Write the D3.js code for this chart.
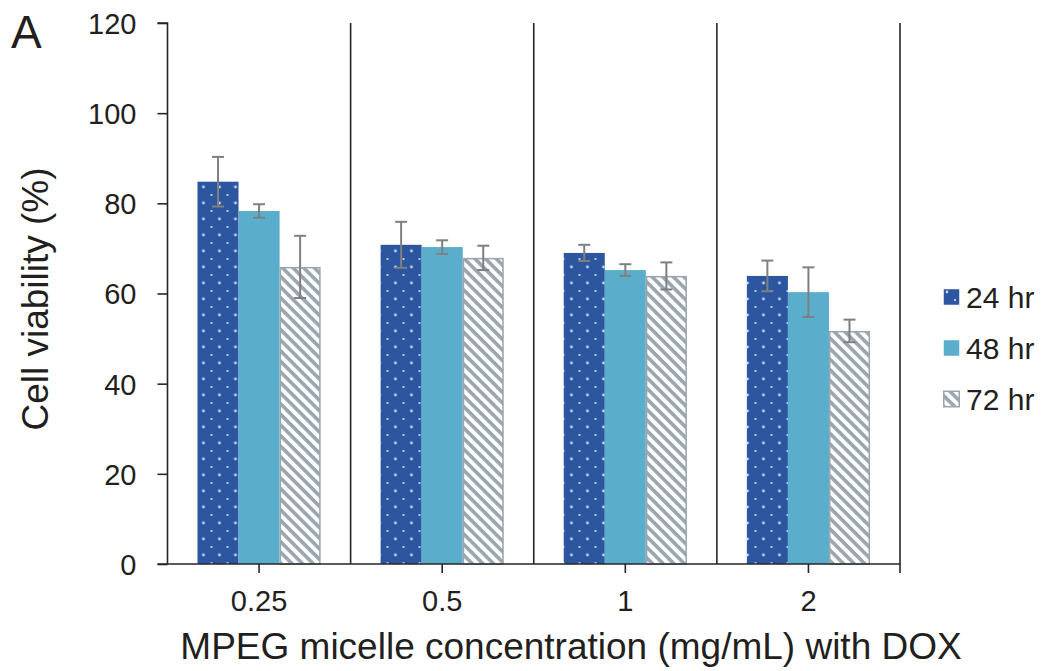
<!DOCTYPE html>
<html>
<head>
<meta charset="utf-8">
<script src="https://cdn.jsdelivr.net/npm/d3@7"></script>
<style>
  html, body { margin: 0; padding: 0; background: #fff; }
  svg { display: block; font-family: "Liberation Sans", Arial, sans-serif; }
</style>
</head>
<body>
<svg id="chart" width="1049" height="671"></svg>
<script>
// Concentrations (x categories) and time points (series)
const categories = ["0.25", "0.5", "1", "2"];
const seriesNames = ["24 hr", "48 hr", "72 hr"];

// Mean cell viability (%) per series, one value per concentration
const viability24 = [84.8, 70.8, 69.0, 63.9];
const viability48 = [78.3, 70.3, 65.2, 60.3];
const viability72 = [65.9, 67.9, 63.9, 51.7];

// Standard deviations
const error24 = [5.5, 5.1, 1.8, 3.4];
const error48 = [1.5, 1.5, 1.3, 5.5];
const error72 = [6.9, 2.7, 3.0, 2.5];

const yTicks = [0, 20, 40, 60, 80, 100, 120];

const series = [
  { name: seriesNames[0], values: viability24, errors: error24, fill: "url(#dots)", stroke: "none" },
  { name: seriesNames[1], values: viability48, errors: error48, fill: "#5aaecb", stroke: "none" },
  { name: seriesNames[2], values: viability72, errors: error72, fill: "url(#stripes)", stroke: "#9aa5ae" }
];

const svg = d3.select("#chart");
const margin = { left: 167.5, right: 149, top: 23, bottom: 107 };
const W = 1049, H = 671;
const plotW = W - margin.left - margin.right;
const plotH = H - margin.top - margin.bottom;
const textColor = "#231f20";
const axisColor = "#262626";

// Patterns for the 24 hr (dotted) and 72 hr (striped) bars
const defs = svg.append("defs");
const dots = defs.append("pattern").attr("id", "dots")
  .attr("patternUnits", "userSpaceOnUse").attr("width", 16).attr("height", 16);
dots.append("rect").attr("width", 16).attr("height", 16).attr("fill", "#2d56a0");
dots.append("circle").attr("cx", 4).attr("cy", 4).attr("r", 1.4).attr("fill", "#c9d6ee");
dots.append("circle").attr("cx", 12).attr("cy", 12).attr("r", 1.0).attr("fill", "#e6ecf7");

const stripes = defs.append("pattern").attr("id", "stripes")
  .attr("patternUnits", "userSpaceOnUse").attr("width", 7.5).attr("height", 7.5)
  .attr("patternTransform", "rotate(45)");
stripes.append("rect").attr("width", 7.5).attr("height", 7.5).attr("fill", "#ffffff");
stripes.append("rect").attr("width", 7.5).attr("height", 3.6).attr("fill", "#9aa5ae");

const g = svg.append("g").attr("transform", `translate(${margin.left},${margin.top})`);

const x0 = d3.scaleBand().domain(categories).range([0, plotW]).paddingInner(0).paddingOuter(0);
const x1 = d3.scaleBand().domain(seriesNames).range([0, x0.bandwidth()]).paddingInner(0).paddingOuter(0.73);
const y = d3.scaleLinear().domain([0, 120]).range([plotH, 0]);

// Bars
series.forEach(s => {
  const inset = s.stroke !== "none" ? 0.75 : 0;
  g.append("g").selectAll("rect").data(categories).join("rect")
    .attr("x", (c) => x0(c) + x1(s.name) + inset)
    .attr("y", (c, i) => y(s.values[i]) + inset)
    .attr("width", x1.bandwidth() - 2 * inset)
    .attr("height", (c, i) => plotH - y(s.values[i]) - inset)
    .attr("fill", s.fill)
    .attr("stroke", s.stroke)
    .attr("stroke-width", 1.5);
});

// Error bars
series.forEach(s => {
  categories.forEach((c, i) => {
    const cx = x0(c) + x1(s.name) + x1.bandwidth() / 2;
    const top = y(s.values[i] + s.errors[i]);
    const bot = y(s.values[i] - s.errors[i]);
    const eg = g.append("g").attr("stroke", "#7f7f7f").attr("stroke-width", 2);
    eg.append("line").attr("x1", cx).attr("x2", cx).attr("y1", top).attr("y2", bot);
    eg.append("line").attr("x1", cx - 6).attr("x2", cx + 6).attr("y1", top).attr("y2", top);
    eg.append("line").attr("x1", cx - 6).attr("x2", cx + 6).attr("y1", bot).attr("y2", bot);
  });
});

// Category separators
categories.forEach(c => {
  g.append("line")
    .attr("x1", x0(c) + x0.bandwidth()).attr("x2", x0(c) + x0.bandwidth())
    .attr("y1", 0).attr("y2", plotH)
    .attr("stroke", axisColor).attr("stroke-width", 1.6);
});

// Y axis
const yAxis = g.append("g")
  .call(d3.axisLeft(y).tickValues(yTicks).tickSize(10).tickPadding(21));
yAxis.selectAll("path, line").attr("stroke", axisColor).attr("stroke-width", 1.6);
yAxis.select(".domain").attr("d", `M-10,0H0V${plotH}`);
yAxis.selectAll("text").attr("font-size", 29).attr("fill", textColor)
  .attr("font-family", "Liberation Sans, Arial, sans-serif").attr("dy", "0.36em");

// X axis
const xAxis = g.append("g").attr("transform", `translate(0,${plotH})`)
  .call(d3.axisBottom(x0).tickSize(9).tickPadding(17));
xAxis.selectAll("path, line").attr("stroke", axisColor).attr("stroke-width", 1.6);
xAxis.select(".domain").attr("d", `M-10,0H${plotW}V9`);
xAxis.selectAll("text").attr("font-size", 29).attr("fill", textColor)
  .attr("font-family", "Liberation Sans, Arial, sans-serif");

// Axis titles
svg.append("text")
  .attr("x", 571).attr("y", 659)
  .attr("text-anchor", "middle").attr("font-size", 37).attr("fill", textColor)
  .text("MPEG micelle concentration (mg/mL) with DOX");

svg.append("text")
  .attr("transform", `translate(48,299) rotate(-90)`)
  .attr("text-anchor", "middle").attr("font-size", 37).attr("fill", textColor)
  .text("Cell viability (%)");

// Panel label
svg.append("text")
  .attr("x", 11).attr("y", 48).attr("font-size", 46).attr("fill", textColor)
  .text("A");

// Legend
const legend = svg.append("g").attr("transform", "translate(943,0)");
const legendY = [297, 348, 399];
series.forEach((s, i) => {
  legend.append("rect")
    .attr("x", 0.75).attr("y", legendY[i] - 7.75)
    .attr("width", 15.5).attr("height", 15.5)
    .attr("fill", s.fill).attr("stroke", s.stroke).attr("stroke-width", 1.5);
  legend.append("text")
    .attr("x", 23).attr("y", legendY[i]).attr("dy", "0.36em")
    .attr("font-size", 30).attr("fill", textColor)
    .text(s.name);
});
</script>
</body>
</html>
